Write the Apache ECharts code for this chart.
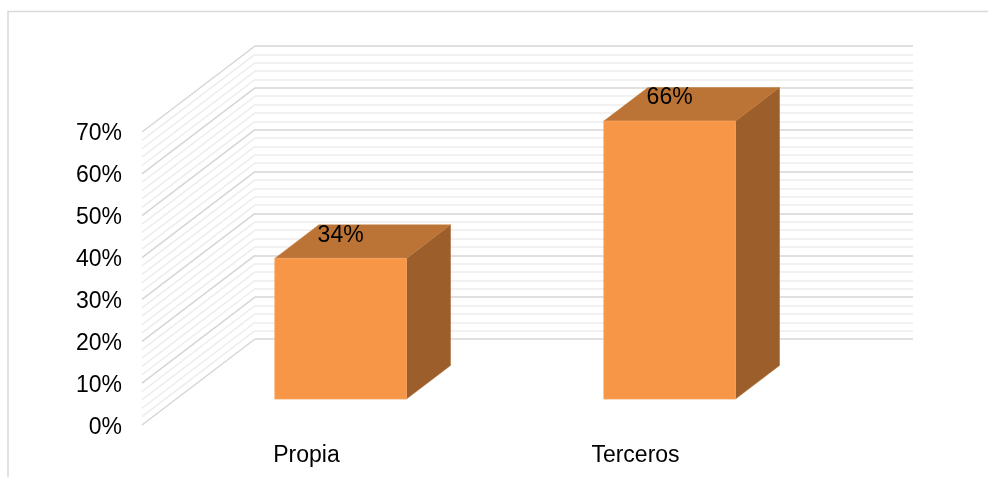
<!DOCTYPE html>
<html>
<head>
<meta charset="utf-8">
<script src="https://cdn.jsdelivr.net/npm/echarts@6/dist/echarts.min.js"></script>
<style>
  html, body { margin: 0; padding: 0; background: #fff; }
  #chart { width: 988px; height: 477px; }
</style>
</head>
<body>
<div id="chart"></div>
<script>
// ---- data ----
const categories = ['Propia', 'Terceros'];
const values = [0.336, 0.664];
const yTickLabels = ['0%', '10%', '20%', '30%', '40%', '50%', '60%', '70%'];

// ---- 3D layout constants ----
const DX = -113, DY = 86;          // wall depth vector (back -> front)
const F_FRONT = 0.698, F_BACK = 0.308; // bar depth position (fraction of wall depth)
const BAR_FRAC = 0.4;              // bar width / band width
const FONT = 'Liberation Sans, Arial, sans-serif';
const MAJOR_COLOR = '#D6D6D6', MINOR_COLOR = '#EDEDED';

const chart = echarts.init(document.getElementById('chart'), null, { renderer: 'canvas' });

const option = {
  backgroundColor: '#fff',
  animation: false,
  graphic: [{
    type: 'rect',
    shape: { x: 8, y: 11.5, width: 1200, height: 600 },
    style: { fill: 'none', stroke: '#D9D9D9', lineWidth: 1.5 },
    silent: true
  }],
  grid: [
    { left: 255, top: 46, width: 658, height: 293 },   // back wall
    { left: 142, top: 134, width: 658, height: 294 }   // front plane (labels)
  ],
  xAxis: [
    { gridIndex: 0, type: 'category', data: categories, boundaryGap: true,
      axisLine: { show: false }, axisTick: { show: false }, axisLabel: { show: false }, splitLine: { show: false } },
    { gridIndex: 1, type: 'category', data: categories, boundaryGap: true,
      axisLine: { show: false }, axisTick: { show: false }, splitLine: { show: false },
      axisLabel: { margin: 16, fontSize: 23, fontFamily: FONT, color: '#000' } }
  ],
  yAxis: [
    { gridIndex: 0, type: 'value', min: 0, max: 0.7, interval: 0.1,
      axisLine: { show: false }, axisTick: { show: false }, axisLabel: { show: false },
      splitLine: { show: true, lineStyle: { color: MAJOR_COLOR, width: 1.5 } },
      minorTick: { show: false, splitNumber: 5 },
      minorSplitLine: { show: true, lineStyle: { color: MINOR_COLOR, width: 1.5 } } },
    { gridIndex: 1, type: 'value', min: 0, max: 0.7, interval: 0.1,
      axisLine: { show: false }, axisTick: { show: false }, splitLine: { show: false },
      axisLabel: { margin: 20, fontSize: 23, fontFamily: FONT, color: '#000',
        formatter: function (v) { return yTickLabels[Math.round(v * 10)]; } } }
  ],
  series: [
    {
      // side wall lines, drawn from the back-wall axis ticks
      type: 'custom', xAxisIndex: 0, yAxisIndex: 0, silent: true, z: 1,
      data: [[0, 0]],
      renderItem: function (params, api) {
        const cs = params.coordSys;
        const children = [];
        const major = 0.1, minorN = 5, maxV = 0.7;
        const steps = Math.round(maxV / major) * minorN;
        for (let k = 0; k <= steps; k++) {
          const v = k * major / minorN;
          const p = api.coord([0, v]);
          const y = p[1];
          const isMajor = k % minorN === 0;
          children.push({
            type: 'line',
            shape: { x1: cs.x, y1: y, x2: cs.x + DX, y2: y + DY },
            style: { stroke: isMajor ? MAJOR_COLOR : MINOR_COLOR, lineWidth: 1.5 }
          });
        }
        return { type: 'group', children: children };
      }
    },
    {
      type: 'custom', xAxisIndex: 0, yAxisIndex: 0, z: 5,
      data: values.map(function (v, i) { return [i, v]; }),
      encode: { x: 0, y: 1 },
      renderItem: function (params, api) {
        const i = api.value(0), v = api.value(1);
        const base = api.coord([i, 0]);
        const top = api.coord([i, v]);
        const w = api.size([1, 0])[0] * BAR_FRAC;
        const x0 = base[0] - w / 2, x1 = base[0] + w / 2;
        const yb = base[1], yt = top[1];
        const fx = DX * F_FRONT, fy = DY * F_FRONT;
        const bx = DX * F_BACK, by = DY * F_BACK;
        const front = [[x0 + fx, yb + fy], [x1 + fx, yb + fy], [x1 + fx, yt + fy], [x0 + fx, yt + fy]];
        const topFace = [[x0 + fx, yt + fy], [x1 + fx, yt + fy], [x1 + bx, yt + by], [x0 + bx, yt + by]];
        const side = [[x1 + fx, yt + fy], [x1 + fx, yb + fy], [x1 + bx, yb + by], [x1 + bx, yt + by]];
        return {
          type: 'group',
          children: [
            { type: 'polygon', shape: { points: side }, style: { fill: '#9C5F2C', stroke: '#A4652F', lineWidth: 0.5 } },
            { type: 'polygon', shape: { points: topFace }, style: { fill: '#BB7336', stroke: '#C27A3B', lineWidth: 0.5 } },
            { type: 'polygon', shape: { points: front }, style: { fill: '#F79646', stroke: '#F9A465', lineWidth: 0.8 } },
            { type: 'text', style: {
                text: Math.round(v * 100) + '%',
                x: base[0] + fx, y: yt + fy - 23,
                align: 'center', verticalAlign: 'middle',
                fontSize: 23, fontFamily: FONT, fill: '#000' } }
          ]
        };
      }
    }
  ]
};
chart.setOption(option);
</script>
</body>
</html>
